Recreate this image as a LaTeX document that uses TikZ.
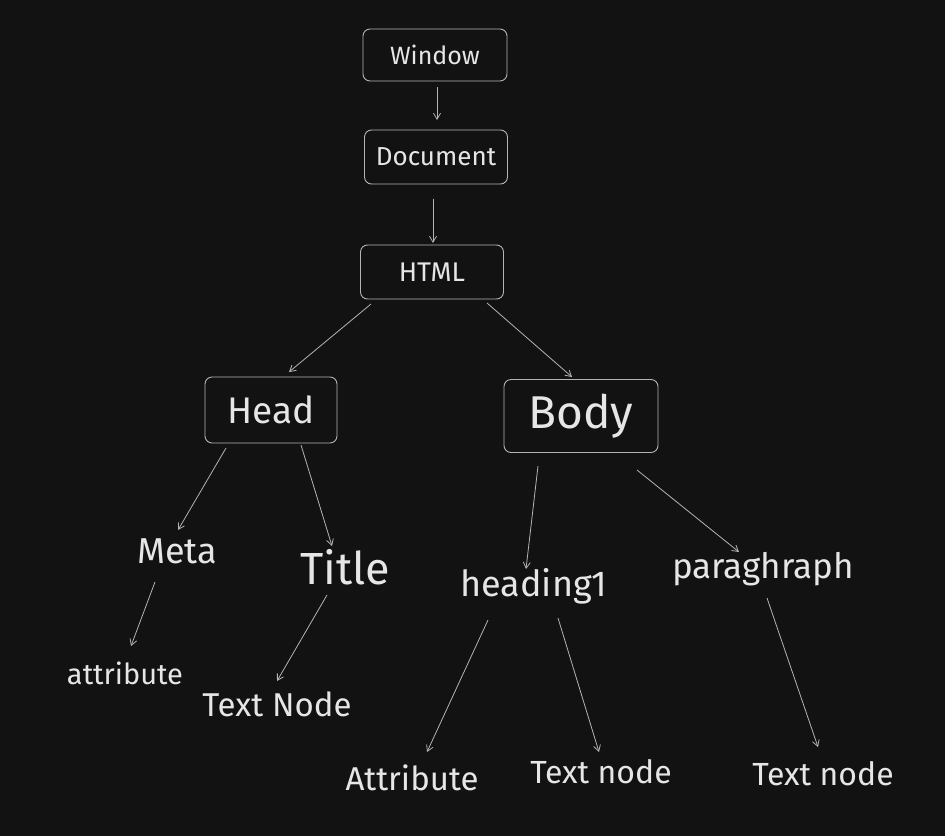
\documentclass[tikz,border=0pt]{standalone}
\usepackage{fontspec}
\setmainfont{Fira Sans}
\usetikzlibrary{arrows.meta}
\definecolor{bgdark}{HTML}{121212}
\definecolor{inkline}{HTML}{B4B4B4}
\definecolor{inktext}{HTML}{E6E6E6}
\tikzset{
  box/.style={draw=inkline, line width=0.9pt, rounded corners=7pt, text=inktext, inner sep=0pt},
  lbl/.style={text=inktext, inner sep=0pt},
  link/.style={draw=inkline, line width=0.8pt, -{Straight Barb[length=6pt,width=7pt]}}
}
\begin{document}
\begin{tikzpicture}[x=1pt, y=-1pt]
  \fill[bgdark] (0,0) rectangle (945,836);
  \useasboundingbox (0,0) rectangle (945,836);
  % boxes
  \node[box, minimum width=144, minimum height=52, font=\fontsize{25}{25}\selectfont] (window) at (435,55) {Window};
  \node[box, minimum width=143, minimum height=54, font=\fontsize{26}{26}\selectfont] (document) at (436,157) {Document};
  \node[box, minimum width=143, minimum height=54, font=\fontsize{27}{27}\selectfont] (html) at (432,272) {HTML};
  \node[box, minimum width=132, minimum height=66, font=\fontsize{37}{37}\selectfont] (head) at (271,410) {Head};
  \node[box, minimum width=154, minimum height=73, font=\fontsize{46}{46}\selectfont] (body) at (581,416) {Body};
  % children
  \node[lbl, font=\fontsize{36}{36}\selectfont] (meta) at (177,551) {Meta};
  \node[lbl, font=\fontsize{45}{45}\selectfont] (title) at (345,567) {Title};
  \node[lbl, font=\fontsize{36}{36}\selectfont] (heading) at (534,586) {heading1};
  \node[lbl, font=\fontsize{35}{35}\selectfont] (para) at (763,569) {paraghraph};
  \node[lbl, font=\fontsize{29}{29}\selectfont] (metaattr) at (125,673) {attribute};
  \node[lbl, font=\fontsize{33}{33}\selectfont] (titletext) at (277,704) {Text Node};
  \node[lbl, font=\fontsize{33}{33}\selectfont] (headattr) at (412,778) {Attribute};
  \node[lbl, font=\fontsize{32}{32}\selectfont] (headtext) at (601,772) {Text node};
  \node[lbl, font=\fontsize{32}{32}\selectfont] (paratext) at (823,774) {Text node};
  % connectors
  \draw[link] ([shift={(2,32)}]window.center) -- ([shift={(1,-37)}]document.center);
  \draw[link] ([shift={(-3,42)}]document.center) -- ([shift={(1,-29)}]html.center);
  \draw[link] ([shift={(-61,32)}]html.center) -- ([shift={(18,-38)}]head.center);
  \draw[link] ([shift={(55,31)}]html.center) -- ([shift={(-9,-39)}]body.center);
  \draw[link] ([shift={(-45,38)}]head.center) -- ([shift={(1,-21)}]meta.center);
  \draw[link] ([shift={(30,35)}]head.center) -- ([shift={(-13,-21)}]title.center);
  \draw[link] ([shift={(-43,50)}]body.center) -- ([shift={(-8,-17)}]heading.center);
  \draw[link] ([shift={(56,54)}]body.center) -- ([shift={(-24,-17)}]para.center);
  \draw[link] ([shift={(-22,31)}]meta.center) -- ([shift={(6,-27)}]metaattr.center);
  \draw[link] ([shift={(-18,28)}]title.center) -- ([shift={(0,-23)}]titletext.center);
  \draw[link] ([shift={(-46,34)}]heading.center) -- ([shift={(15,-26)}]headattr.center);
  \draw[link] ([shift={(24,32)}]heading.center) -- ([shift={(-2,-20)}]headtext.center);
  \draw[link] ([shift={(4,29)}]para.center) -- ([shift={(-5,-27)}]paratext.center);
\end{tikzpicture}
\end{document}
